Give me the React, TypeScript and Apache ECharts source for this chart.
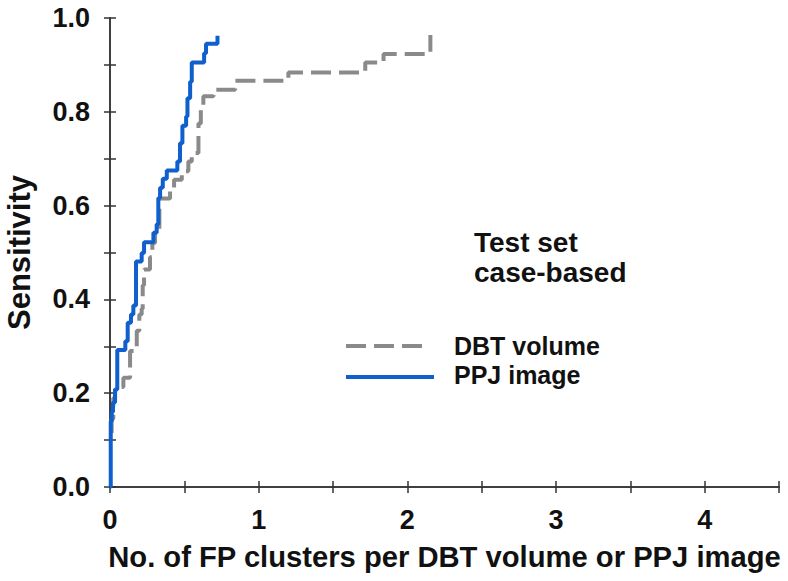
import React, { useEffect, useRef } from "react";
import * as echarts from "echarts";

// FP clusters per image (x) and sensitivity (y) at each rise of the step curve
const dbtVolume: [number, number][] = [
  [0.011, 0.115], [0.011, 0.145], [0.022, 0.19], [0.034, 0.213], [0.09, 0.233],
  [0.135, 0.29], [0.18, 0.333], [0.197, 0.368], [0.213, 0.38], [0.22, 0.43],
  [0.229, 0.464], [0.269, 0.49], [0.285, 0.52], [0.303, 0.54], [0.332, 0.615],
  [0.404, 0.638], [0.431, 0.655], [0.483, 0.673], [0.527, 0.694], [0.55, 0.712],
  [0.595, 0.775], [0.611, 0.811], [0.628, 0.833], [0.696, 0.847], [0.842, 0.866],
  [1.2, 0.884], [1.717, 0.905], [1.84, 0.923], [2.155, 0.964],
];

const ppjImage: [number, number][] = [
  [0, 0], [0.005, 0.14], [0.012, 0.16], [0.02, 0.18], [0.034, 0.208],
  [0.049, 0.292], [0.103, 0.311], [0.119, 0.35], [0.141, 0.368], [0.157, 0.387],
  [0.175, 0.481], [0.213, 0.499], [0.229, 0.522], [0.292, 0.542], [0.314, 0.56],
  [0.325, 0.616], [0.337, 0.638], [0.355, 0.657], [0.382, 0.675], [0.453, 0.694],
  [0.471, 0.733], [0.487, 0.77], [0.512, 0.79], [0.521, 0.829], [0.539, 0.864],
  [0.55, 0.905], [0.633, 0.925], [0.646, 0.945], [0.723, 0.962],
];

const seriesNames = ["DBT volume", "PPJ image"];
const annotationLines = ["Test set", "case-based"];
const xTitle = "No. of FP clusters per DBT volume or PPJ image";
const yTitle = "Sensitivity";

const FONT = "'Liberation Sans', Arial, sans-serif";
const AXIS_COLOR = "#333";
const GRAY = "#8a8a8a";
const BLUE = "#0f5fcc";

export default function App() {
  const ref = useRef<HTMLDivElement>(null);

  useEffect(() => {
    if (!ref.current) return;
    const chart = echarts.init(ref.current, undefined, { renderer: "svg" });

    const axisLine = { show: true, lineStyle: { color: AXIS_COLOR, width: 1.5 } };
    const axisTick = { show: true, inside: false, length: 6, lineStyle: { color: AXIS_COLOR, width: 1.5 } };

    const option: any = {
      animation: false,
      backgroundColor: "#fff",
      grid: { left: 110, right: 9, top: 18, bottom: 94, containLabel: false, outerBoundsMode: "none" },
      xAxis: [
        {
          type: "value",
          min: 0,
          max: 4.5,
          interval: 0.5,
          position: "bottom",
          axisLine,
          axisTick,
          splitLine: { show: false },
          axisLabel: {
            margin: 19,
            fontFamily: FONT,
            fontWeight: "bold",
            fontSize: 27,
            color: "#111",
            formatter: (v: number) => (Math.abs(v - Math.round(v)) < 1e-6 && v < 4.4 ? String(Math.round(v)) : ""),
          },
          name: xTitle,
          nameLocation: "middle",
          nameGap: 55,
          nameTextStyle: { fontFamily: FONT, fontWeight: "bold", fontSize: 29.2, color: "#111" },
        },
        {
          type: "value",
          min: 0,
          max: 4.5,
          interval: 0.5,
          position: "top",
          axisLine,
          axisTick,
          splitLine: { show: false },
          axisLabel: { show: false },
        },
      ],
      yAxis: [
        {
          type: "value",
          min: 0,
          max: 1,
          interval: 0.1,
          position: "left",
          axisLine,
          axisTick,
          splitLine: { show: false },
          axisLabel: {
            margin: 20,
            fontFamily: FONT,
            fontWeight: "bold",
            fontSize: 27,
            color: "#111",
            formatter: (v: number) => (Math.round(v * 10) % 2 === 0 ? v.toFixed(1) : ""),
          },
          name: yTitle,
          nameLocation: "middle",
          nameGap: 75,
          nameRotate: 90,
          nameTextStyle: { fontFamily: FONT, fontWeight: "bold", fontSize: 31, color: "#111" },
        },
        {
          type: "value",
          min: 0,
          max: 1,
          interval: 0.1,
          position: "right",
          axisLine,
          axisTick,
          splitLine: { show: false },
          axisLabel: { show: false },
        },
      ],
      series: [
        {
          name: seriesNames[0],
          type: "line",
          step: "end",
          xAxisIndex: 0,
          yAxisIndex: 0,
          data: dbtVolume,
          showSymbol: false,
          symbol: "none",
          lineStyle: { color: GRAY, width: 4, type: [20, 8] },
          z: 2,
        },
        {
          name: seriesNames[1],
          type: "line",
          step: "end",
          xAxisIndex: 0,
          yAxisIndex: 0,
          data: ppjImage,
          showSymbol: false,
          symbol: "none",
          lineStyle: { color: BLUE, width: 4 },
          z: 3,
        },
      ],
      graphic: [
        {
          type: "text",
          left: 474,
          top: 228,
          style: { text: annotationLines[0], font: `bold 28px ${FONT}`, fill: "#111" },
        },
        {
          type: "text",
          left: 474,
          top: 258,
          style: { text: annotationLines[1], font: `bold 28px ${FONT}`, fill: "#111" },
        },
        {
          type: "line",
          shape: { x1: 346, y1: 346, x2: 424, y2: 346 },
          style: { stroke: GRAY, lineWidth: 4, lineDash: [20, 8] },
        },
        {
          type: "line",
          shape: { x1: 346, y1: 377, x2: 434, y2: 377 },
          style: { stroke: BLUE, lineWidth: 4 },
        },
        {
          type: "text",
          left: 454,
          top: 333,
          style: { text: seriesNames[0], font: `bold 25px ${FONT}`, fill: "#111" },
        },
        {
          type: "text",
          left: 454,
          top: 362,
          style: { text: seriesNames[1], font: `bold 25px ${FONT}`, fill: "#111" },
        },
      ],
    };

    chart.setOption(option);
    return () => chart.dispose();
  }, []);

  return (
    <div
      ref={ref}
      style={{ position: "fixed", left: 0, top: 0, width: 788, height: 581, background: "#fff" }}
    />
  );
}
